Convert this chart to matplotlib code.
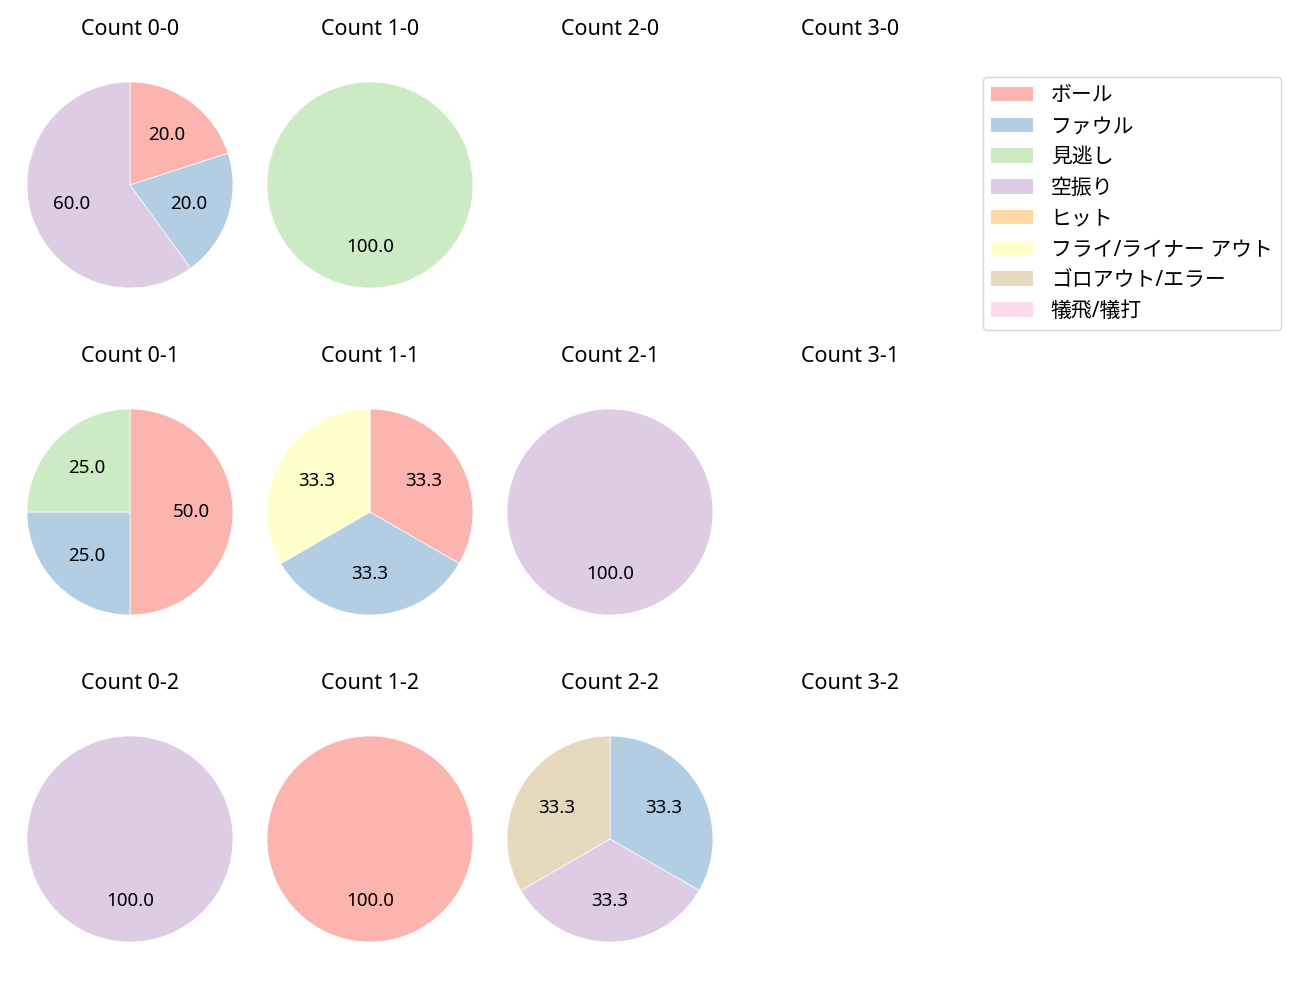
import matplotlib.pyplot as plt
from matplotlib.patches import Patch
import numpy as np

plt.rcParams['font.family'] = ['Noto Sans', 'Noto Sans CJK JP', 'DejaVu Sans']

categories = ['ボール', 'ファウル', '見逃し', '空振り', 'ヒット',
              'フライ/ライナー アウト', 'ゴロアウト/エラー', '犠飛/犠打']
colors = plt.cm.Pastel1(np.arange(8))

# counts per category for each ball-strike count (balls-strikes)
data = {
    '0-0': [1, 1, 0, 3, 0, 0, 0, 0],
    '1-0': [0, 0, 1, 0, 0, 0, 0, 0],
    '2-0': [0, 0, 0, 0, 0, 0, 0, 0],
    '3-0': [0, 0, 0, 0, 0, 0, 0, 0],
    '0-1': [2, 1, 1, 0, 0, 0, 0, 0],
    '1-1': [1, 1, 0, 0, 0, 1, 0, 0],
    '2-1': [0, 0, 0, 1, 0, 0, 0, 0],
    '3-1': [0, 0, 0, 0, 0, 0, 0, 0],
    '0-2': [0, 0, 0, 1, 0, 0, 0, 0],
    '1-2': [1, 0, 0, 0, 0, 0, 0, 0],
    '2-2': [0, 1, 0, 1, 0, 0, 1, 0],
    '3-2': [0, 0, 0, 0, 0, 0, 0, 0],
}

W, H = 1300, 1000
fig = plt.figure(figsize=(13, 10), dpi=100)

box = 257.5
for strikes in range(3):
    for balls in range(4):
        key = f'{balls}-{strikes}'
        cx = 130 + 240 * balls
        cy = 185 + 327 * strikes
        ax = fig.add_axes([(cx - box / 2) / W, 1 - (cy + box / 2) / H, box / W, box / H])
        vals = np.array(data[key])
        mask = vals > 0
        if mask.any():
            ax.pie(vals[mask], colors=colors[mask], startangle=90, counterclock=False,
                   autopct='%.1f', textprops={'fontsize': 13.5},
                   wedgeprops={'edgecolor': 'white', 'linewidth': 0.5})
        ax.set_xlim(-1.25, 1.25)
        ax.set_ylim(-1.25, 1.25)
        ax.set_aspect('equal')
        ax.axis('off')
        ax.set_title(f'Count {key}', fontsize=15.5, pad=15)

handles = [Patch(facecolor=colors[i], label=categories[i]) for i in range(8)]
fig.legend(handles=handles, loc='upper right', bbox_to_anchor=(1281 / W, 1 - 77 / H),
           borderaxespad=0, fontsize=15, labelspacing=0.47, handletextpad=0.85)

fig.savefig('out.png')
